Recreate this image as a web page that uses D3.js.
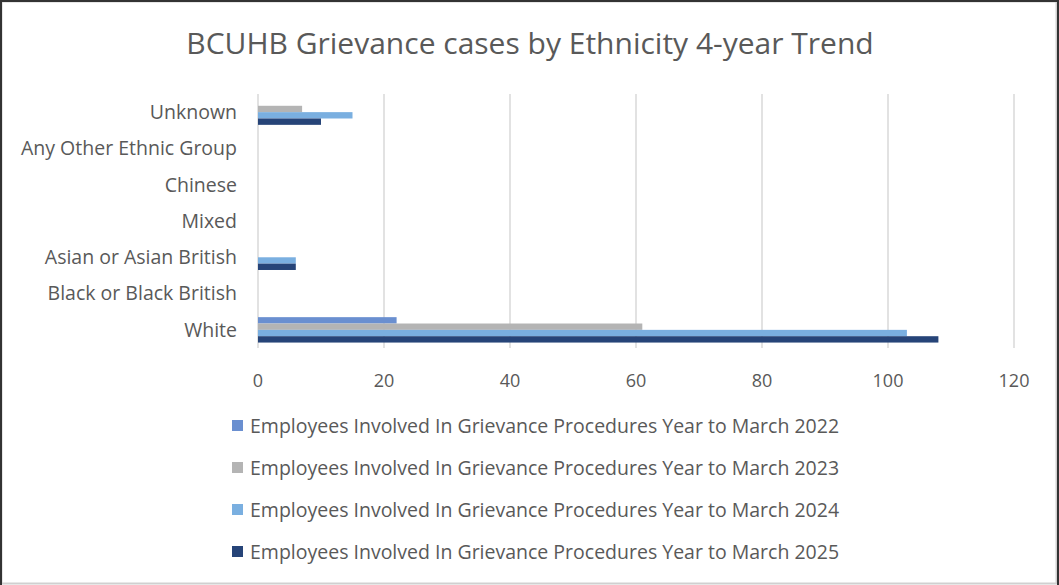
<!DOCTYPE html>
<html>
<head>
<meta charset="utf-8">
<script src="https://cdn.jsdelivr.net/npm/d3@7"></script>
<style>
  body { margin: 0; background: #fff; }
  svg { display: block; font-family: "Open Sans", "Liberation Sans", sans-serif; }
</style>
</head>
<body>
<svg id="chart" width="1059" height="585"></svg>
<script>
const categories = ["Unknown", "Any Other Ethnic Group", "Chinese", "Mixed", "Asian or Asian British", "Black or Black British", "White"];
const seriesNames = [
  "Employees Involved In Grievance Procedures Year to March 2022",
  "Employees Involved In Grievance Procedures Year to March 2023",
  "Employees Involved In Grievance Procedures Year to March 2024",
  "Employees Involved In Grievance Procedures Year to March 2025"
];
const values2022 = [0, 0, 0, 0, 0, 0, 22];
const values2023 = [7, 0, 0, 0, 0, 0, 61];
const values2024 = [15, 0, 0, 0, 6, 0, 103];
const values2025 = [10, 0, 0, 0, 6, 0, 108];
const xTicks = [0, 20, 40, 60, 80, 100, 120];
const colors = ["#6a8fd0", "#b4b4b4", "#7aafe0", "#264478"];

const seriesValues = [values2022, values2023, values2024, values2025];
const svg = d3.select("#chart");
const width = 1059, height = 585;

// frame
svg.append("rect").attr("x", 1.5).attr("y", 1.5).attr("width", width - 4).attr("height", height - 3)
  .attr("fill", "#fff").attr("stroke", "#d0d0d0").attr("stroke-width", 2);
svg.append("path").attr("d", `M1,${height} V1 H${width - 1} V${height}`)
  .attr("fill", "none").attr("stroke", "#333").attr("stroke-width", 2);

svg.append("text")
  .attr("x", 530).attr("y", 54)
  .attr("text-anchor", "middle")
  .attr("fill", "#595959")
  .attr("font-size", 30)
  .text("BCUHB Grievance cases by Ethnicity 4-year Trend");

const x = d3.scaleLinear().domain([0, 120]).range([258, 1014]);
const y = d3.scaleBand().domain(categories).range([94, 348]).paddingInner(0.3).paddingOuter(0.15);
const ySub = d3.scaleBand().domain(d3.range(seriesNames.length)).range([0, y.bandwidth()]);

// gridlines
svg.append("g")
  .selectAll("line")
  .data(xTicks)
  .join("line")
  .attr("x1", (d) => x(d)).attr("x2", (d) => x(d))
  .attr("y1", 94).attr("y2", 348)
  .attr("stroke", "#d9d9d9").attr("stroke-width", 1.5);

// bars
const groups = svg.append("g")
  .selectAll("g")
  .data(seriesValues)
  .join("g")
  .attr("fill", (_d, i) => colors[i]);

groups.selectAll("rect")
  .data((vals, si) => vals.map((v, ci) => ({ v, ci, si })))
  .join("rect")
  .attr("x", x(0))
  .attr("y", (d) => y(categories[d.ci]) + ySub(d.si))
  .attr("width", (d) => x(d.v) - x(0))
  .attr("height", ySub.bandwidth())
  .attr("display", (d) => (d.v > 0 ? null : "none"));

// category labels
svg.append("g")
  .selectAll("text")
  .data(categories)
  .join("text")
  .attr("x", 237)
  .attr("y", (d) => y(d) + y.bandwidth() / 2)
  .attr("dy", "0.35em")
  .attr("text-anchor", "end")
  .attr("fill", "#595959")
  .attr("font-size", 19.5)
  .text((d) => d);

// x tick labels
svg.append("g")
  .selectAll("text")
  .data(xTicks)
  .join("text")
  .attr("x", (d) => x(d))
  .attr("y", 387)
  .attr("text-anchor", "middle")
  .attr("fill", "#595959")
  .attr("font-size", 18)
  .text((d) => d);

// legend
const legend = svg.append("g")
  .selectAll("g")
  .data(seriesNames)
  .join("g")
  .attr("transform", (_d, i) => `translate(232, ${426 + i * 42})`);

legend.append("rect")
  .attr("x", 0).attr("y", -6).attr("width", 11).attr("height", 11)
  .attr("fill", (_d, i) => colors[i]);

legend.append("text")
  .attr("x", 18).attr("y", 0).attr("dy", "0.35em")
  .attr("fill", "#595959")
  .attr("font-size", 19.5)
  .text((d) => d);
</script>
</body>
</html>
